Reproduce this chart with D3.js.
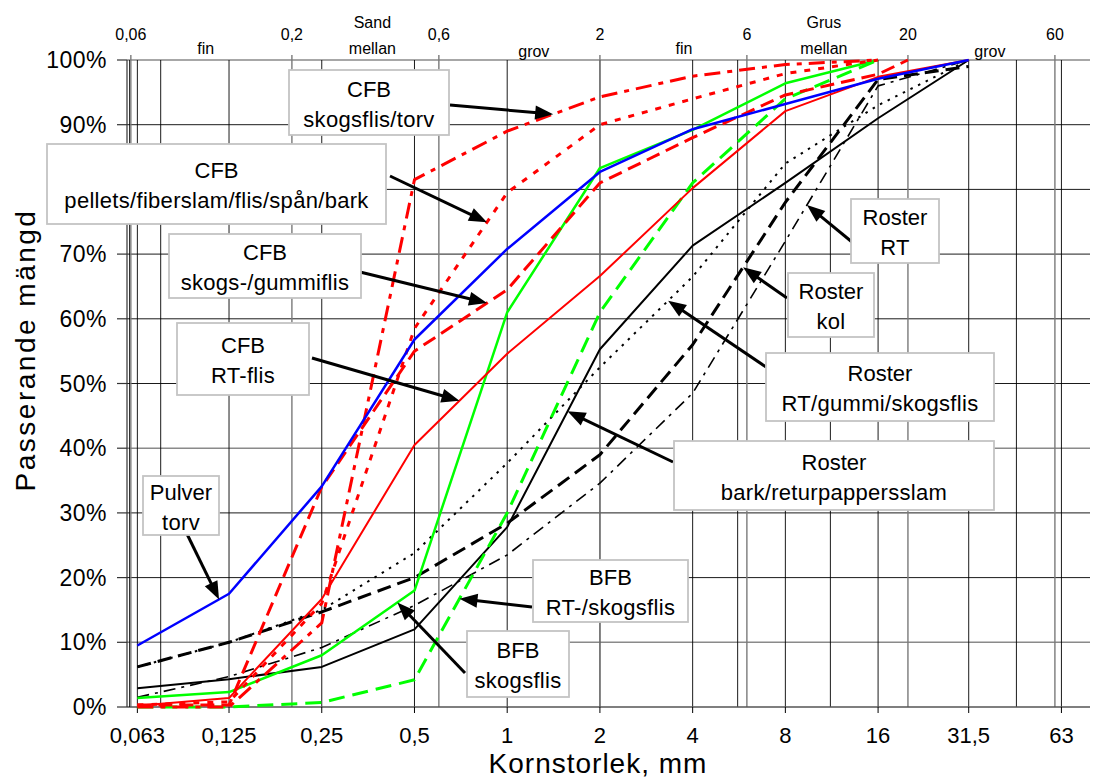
<!DOCTYPE html>
<html>
<head>
<meta charset="utf-8">
<script src="https://cdn.jsdelivr.net/npm/d3@7"></script>
<style>
  body { margin: 0; background: #fff; }
  svg text { font-family: "Liberation Sans", Arial, Helvetica, sans-serif; fill: #000; }
</style>
</head>
<body>
<div id="chart"></div>
<script>
// sieve sizes (mm) used by the series
var sizes = [0.063, 0.125, 0.25, 0.5, 1, 2, 4, 8, 16, 20, 31.5];

// passing amount (%) per sieve, null = no value
var pulverTorv    = [9.5, 17.5, 34.1, 56.8, 70.8, 82.7, 89.3, 93.2, 97.1, null, 100];
var cfbRtFlis     = [0.2, 1.4, 16.7, 40.5, 54.6, 66.6, 80.2, 92.1, 97.4, null, 100];
var cfbSkogsGummi = [0.3, 0.3, 34, 55, 64.5, 81, 88, 94.6, 97.8, 100, null];
var cfbPellets    = [0.3, 0.8, 16, 58.5, 79.5, 90, 94, 97.9, 100, null, null];
var cfbSkogsTorv  = [0, 0, 13, 81.5, 89, 94.3, 97.5, 99.3, 100, null, null];
var bfbSkogsflis  = [1.4, 2.3, 8, 18, 61, 83.3, 89.2, 96.4, 100, null, null];
var bfbRtSkogs    = [0, 0, 0.7, 4.2, 30, 61, 81, 94, 100, null, null];
var rosterBark    = [2.9, 4.3, 6.2, 12, 27.8, 55.3, 71.3, 81, 91, null, 100];
var rosterRtGummi = [6.2, 10, 15, 23.8, 37.7, 52.5, 66.5, 84, 93, null, 100];
var rosterKol     = [6.2, 10, 14.7, 20, 28.4, 39, 56, 78, 97, null, 99];
var rosterRt      = [1.5, 4.7, 9.2, 15.7, 23.5, 34.6, 48.5, 72, 96, null, 100];

// axis ticks
var bottomTicks = [0.063, 0.125, 0.25, 0.5, 1, 2, 4, 8, 16, 31.5, 63];
var bottomLabels = ["0,063", "0,125", "0,25", "0,5", "1", "2", "4", "8", "16", "31,5", "63"];
var sieveLines = [0.063, 0.075, 0.125, 0.25, 0.5, 1, 2, 4, 5.6, 8, 11.2, 16, 31.5, 45, 63];
var topTicks = [0.06, 0.2, 0.6, 2, 6, 20, 60];
var topLabels = ["0,06", "0,2", "0,6", "2", "6", "20", "60"];
var classNames = ["fin", "Sand", "mellan", "grov", "fin", "Grus", "mellan", "grov"];
var classSizes = [0.105, 0.365, 0.365, 1.22, 3.75, 10.67, 10.67, 36.9];
var classRows  = [2, 1, 2, 3, 2, 1, 2, 3];
var yTicks = [0, 10, 20, 30, 40, 50, 60, 70, 80, 90, 100];

var width = 1105, height = 780;
var svg = d3.select("#chart").append("svg")
  .attr("width", width)
  .attr("height", height);

var x = d3.scaleLog().domain([0.0583, 78]).range([127, 1090]);
var y = d3.scaleLinear().domain([0, 100]).range([707, 60]);

// horizontal grid
svg.append("g").selectAll("line")
  .data(yTicks.slice(1))
  .enter().append("line")
  .attr("x1", x.range()[0]).attr("x2", x.range()[1])
  .attr("y1", function(d) { return y(d); })
  .attr("y2", function(d) { return y(d); })
  .attr("stroke", function(d) { return (d == 10 || d == 40 || d == 100) ? "#8a8a8a" : "#000"; })
  .attr("stroke-width", function(d) { return (d == 10 || d == 40 || d == 100) ? 1.6 : 0.9; });

// vertical grid: sieve sizes and classification limits
svg.append("g").selectAll("line")
  .data(sieveLines)
  .enter().append("line")
  .attr("x1", function(d) { return x(d); }).attr("x2", function(d) { return x(d); })
  .attr("y1", y(0)).attr("y2", y(100))
  .attr("stroke", "#000").attr("stroke-width", 0.9);
svg.append("g").selectAll("line")
  .data(topTicks)
  .enter().append("line")
  .attr("x1", function(d) { return x(d); }).attr("x2", function(d) { return x(d); })
  .attr("y1", y(0)).attr("y2", y(100) - 5)
  .attr("stroke", "#7a7a7a").attr("stroke-width", 1.4);

// axes lines
svg.append("line").attr("x1", x.range()[0]).attr("x2", x.range()[1])
  .attr("y1", y(0)).attr("y2", y(0)).attr("stroke", "#555").attr("stroke-width", 1.6);
svg.append("line").attr("x1", x.range()[0]).attr("x2", x.range()[0])
  .attr("y1", y(0)).attr("y2", y(100)).attr("stroke", "#333").attr("stroke-width", 1.2);
svg.append("line").attr("x1", x.range()[0] + 2.5).attr("x2", x.range()[0] + 2.5)
  .attr("y1", y(0)).attr("y2", y(100)).attr("stroke", "#000").attr("stroke-width", 0.8);

// y ticks + labels
svg.append("g").selectAll("line")
  .data(yTicks).enter().append("line")
  .attr("x1", x.range()[0] - 10).attr("x2", x.range()[0])
  .attr("y1", function(d) { return y(d); }).attr("y2", function(d) { return y(d); })
  .attr("stroke", "#333").attr("stroke-width", 1.2);
svg.append("g").selectAll("text")
  .data(yTicks).enter().append("text")
  .attr("x", 107).attr("y", function(d) { return y(d) + 8; })
  .attr("text-anchor", "end")
  .style("font-size", "23px")
  .style("letter-spacing", "0.5px")
  .text(function(d) { return d + "%"; });

// bottom ticks + labels
svg.append("g").selectAll("line")
  .data(bottomTicks).enter().append("line")
  .attr("x1", function(d) { return x(d); }).attr("x2", function(d) { return x(d); })
  .attr("y1", y(0)).attr("y2", y(0) + 6)
  .attr("stroke", "#000").attr("stroke-width", 1);
svg.append("g").selectAll("text")
  .data(bottomTicks).enter().append("text")
  .attr("x", function(d) { return x(d); }).attr("y", 743)
  .attr("text-anchor", "middle")
  .style("font-size", "22px")
  .text(function(d, i) { return bottomLabels[i]; });

// top labels
svg.append("g").selectAll("text")
  .data(topTicks).enter().append("text")
  .attr("x", function(d) { return x(d); }).attr("y", 40)
  .attr("text-anchor", "middle")
  .style("font-size", "16px")
  .text(function(d, i) { return topLabels[i]; });
var rowY = { 1: 27.5, 2: 53.5, 3: 56.5 };
svg.append("g").selectAll("text")
  .data(classSizes).enter().append("text")
  .attr("x", function(d) { return x(d); })
  .attr("y", function(d, i) { return rowY[classRows[i]]; })
  .attr("text-anchor", "middle")
  .style("font-size", "16px")
  .text(function(d, i) { return classNames[i]; });

// axis titles
svg.append("text").attr("x", 598).attr("y", 773)
  .attr("text-anchor", "middle").style("font-size", "28px")
  .style("letter-spacing", "1px")
  .text("Kornstorlek, mm");
svg.append("text")
  .attr("transform", "translate(35,350) rotate(-90)")
  .attr("text-anchor", "middle").style("font-size", "28px")
  .style("letter-spacing", "2.5px")
  .text("Passerande mängd");

// series
var series = [
  { v: rosterRt,      color: "#000",    w: 1.6, dash: "12,6,3,6" },
  { v: rosterKol,     color: "#000",    w: 3,   dash: "14,7" },
  { v: rosterRtGummi, color: "#000",    w: 2,   dash: "2.5,6" },
  { v: rosterBark,    color: "#000",    w: 2,   dash: null },
  { v: bfbRtSkogs,    color: "#00ff00", w: 3,   dash: "16,8" },
  { v: bfbSkogsflis,  color: "#00ff00", w: 2.5, dash: null },
  { v: cfbSkogsTorv,  color: "#ff0000", w: 3,   dash: "16,7,5,7" },
  { v: cfbPellets,    color: "#ff0000", w: 3,   dash: "6,8" },
  { v: cfbSkogsGummi, color: "#ff0000", w: 3,   dash: "14,7" },
  { v: cfbRtFlis,     color: "#ff0000", w: 2,   dash: null },
  { v: pulverTorv,    color: "#0000ff", w: 2.5, dash: null }
];

var line = d3.line()
  .x(function(d) { return x(d[0]); })
  .y(function(d) { return y(d[1]); });

svg.append("g").selectAll("path")
  .data(series).enter().append("path")
  .attr("d", function(s) {
    return line(sizes.map(function(sz, i) { return [sz, s.v[i]]; }).filter(function(p) { return p[1] != null; }));
  })
  .attr("fill", "none")
  .attr("stroke", function(s) { return s.color; })
  .attr("stroke-width", function(s) { return s.w; })
  .attr("stroke-dasharray", function(s) { return s.dash; })
  .attr("stroke-linejoin", "round");

// point on a series at a given size (log interpolation)
function pointOn(vals, d) {
  var pts = sizes.map(function(sz, i) { return [sz, vals[i]]; }).filter(function(p) { return p[1] != null; });
  for (var i = 0; i < pts.length - 1; i++) {
    if (d >= pts[i][0] && d <= pts[i + 1][0]) {
      var t = (Math.log(d) - Math.log(pts[i][0])) / (Math.log(pts[i + 1][0]) - Math.log(pts[i][0]));
      return [x(d), y(pts[i][1] + t * (pts[i + 1][1] - pts[i][1]))];
    }
  }
  return [x(d), y(pts[pts.length - 1][1])];
}

// annotation boxes: [x0, y0, x1, y1], arrow tail, target series and size
var notes = [
  { l1: "CFB", l2: "skogsflis/torv", box: [289, 70, 449, 135], tail: [450, 105], s: cfbSkogsTorv, at: 1.41 },
  { l1: "CFB", l2: "pellets/fiberslam/flis/spån/bark", box: [47, 144, 386, 224], tail: [390, 176], s: cfbPellets, at: 0.86 },
  { l1: "CFB", l2: "skogs-/gummiflis", box: [169, 234, 361, 298], tail: [360, 272], s: cfbSkogsGummi, at: 0.86 },
  { l1: "CFB", l2: "RT-flis", box: [177, 323, 309, 395], tail: [312, 358], s: cfbRtFlis, at: 0.70 },
  { l1: "Pulver", l2: "torv", box: [143, 476, 219, 535], tail: [187, 534], s: pulverTorv, at: 0.116 },
  { l1: "BFB", l2: "skogsflis", box: [467, 631, 569, 697], tail: [465, 673], s: bfbSkogsflis, at: 0.44 },
  { l1: "BFB", l2: "RT-/skogsflis", box: [533, 560, 688, 622], tail: [532, 607], s: bfbRtSkogs, at: 0.70 },
  { l1: "Roster", l2: "bark/returpappersslam", box: [674, 441, 994, 510], tail: [673, 462], s: rosterBark, at: 1.57 },
  { l1: "Roster", l2: "RT/gummi/skogsflis", box: [766, 353, 994, 421], tail: [766, 367], s: rosterRtGummi, at: 3.33 },
  { l1: "Roster", l2: "kol", box: [788, 273, 874, 337], tail: [787, 298], s: rosterKol, at: 5.83 },
  { l1: "Roster", l2: "RT", box: [851, 199, 939, 263], tail: [852, 242], s: rosterRt, at: 9.4 }
];

var ann = svg.append("g");
notes.forEach(function(n) {
  var tip = pointOn(n.s, n.at);
  var dx = tip[0] - n.tail[0], dy = tip[1] - n.tail[1];
  var len = Math.sqrt(dx * dx + dy * dy);
  var ux = dx / len, uy = dy / len;
  var hl = 18, hw = 7;
  var bx = tip[0] - ux * hl, by = tip[1] - uy * hl;
  ann.append("line")
    .attr("x1", n.tail[0]).attr("y1", n.tail[1])
    .attr("x2", bx + ux * 2).attr("y2", by + uy * 2)
    .attr("stroke", "#000").attr("stroke-width", 3);
  ann.append("path")
    .attr("d", "M" + tip[0] + "," + tip[1] +
      "L" + (bx - uy * hw) + "," + (by + ux * hw) +
      "L" + (bx + uy * hw) + "," + (by - ux * hw) + "Z")
    .attr("fill", "#000");

  var b = n.box, cx = (b[0] + b[2]) / 2, cy = (b[1] + b[3]) / 2;
  ann.append("rect")
    .attr("x", b[0]).attr("y", b[1])
    .attr("width", b[2] - b[0]).attr("height", b[3] - b[1])
    .attr("fill", "#fff").attr("stroke", "#c4c4c4").attr("stroke-width", 1.8);
  ann.append("text").attr("x", cx).attr("y", cy - 6)
    .attr("text-anchor", "middle").style("font-size", "22px").text(n.l1);
  ann.append("text").attr("x", cx).attr("y", cy + 24)
    .attr("text-anchor", "middle").style("font-size", "22px")
    .style("letter-spacing", "0.3px").text(n.l2);
});
</script>
</body>
</html>
